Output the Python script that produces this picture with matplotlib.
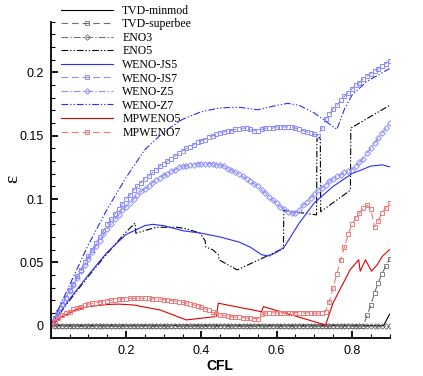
import numpy as np
import matplotlib
matplotlib.use('Agg')
import matplotlib.pyplot as plt
from matplotlib.ticker import MultipleLocator

# CFL grid of the marked series (one marker per point)
cfl_m = np.round(np.arange(0, 0.901, 0.01), 2)

# error values
tvd_minmod_x = [0.0, 0.884, 0.9]
tvd_minmod_y = [0.0, 0.0, 0.009]

tvd_superbee = [0.0] * 84 + [0.008, 0.016, 0.026, 0.034, 0.041, 0.047, 0.053]

eno3 = [0.0] * 91

eno5_x = [0.0, 0.05, 0.1, 0.15, 0.2, 0.224, 0.226, 0.28, 0.335, 0.36, 0.397, 0.41, 0.412,
          0.43, 0.445, 0.447, 0.495, 0.618, 0.619, 0.706, 0.707, 0.716, 0.717, 0.796,
          0.797, 0.9]
eno5_y = [0.0, 0.020, 0.039, 0.057, 0.074, 0.081, 0.073, 0.0777, 0.0777, 0.0765, 0.073,
          0.067, 0.062, 0.060, 0.056, 0.052, 0.044, 0.061, 0.091, 0.0875, 0.147, 0.149,
          0.090, 0.107, 0.156, 0.174]

weno_js5_x = [0.0, 0.05, 0.1, 0.15, 0.2, 0.25, 0.27, 0.3, 0.35, 0.4, 0.45, 0.5, 0.53,
              0.56, 0.58, 0.6, 0.62, 0.66, 0.7, 0.75, 0.8, 0.85, 0.88, 0.9]
weno_js5_y = [0.0, 0.021, 0.040, 0.058, 0.072, 0.079, 0.080, 0.079, 0.075, 0.073, 0.070,
              0.066, 0.062, 0.056, 0.055, 0.058, 0.062, 0.081, 0.097, 0.110, 0.120, 0.126,
              0.127, 0.1255]

weno_js7 = [0.0, 0.006, 0.011, 0.017, 0.022, 0.028, 0.033, 0.039, 0.044, 0.050,
            0.055, 0.060, 0.065, 0.070, 0.075, 0.080, 0.084, 0.088, 0.092, 0.096,
            0.100, 0.103, 0.107, 0.110, 0.113, 0.116, 0.118, 0.121, 0.123, 0.126,
            0.128, 0.130, 0.132, 0.134, 0.136, 0.138, 0.140, 0.141, 0.143, 0.145,
            0.146, 0.147, 0.149, 0.150, 0.151, 0.152, 0.153, 0.154, 0.154, 0.155,
            0.155, 0.156, 0.156, 0.155, 0.154, 0.154, 0.155, 0.156, 0.156, 0.156,
            0.157, 0.157, 0.157, 0.157, 0.157, 0.156, 0.155, 0.154, 0.153, 0.152,
            0.151, 0.150, 0.156, 0.163, 0.167, 0.171, 0.174, 0.178, 0.181, 0.184,
            0.187, 0.190, 0.192, 0.195, 0.197, 0.199, 0.201, 0.203, 0.205, 0.207,
            0.209]

weno_z5 = [0.0, 0.005, 0.011, 0.016, 0.022, 0.027, 0.032, 0.038, 0.043, 0.048,
           0.053, 0.058, 0.063, 0.067, 0.072, 0.076, 0.080, 0.084, 0.087, 0.091,
           0.094, 0.097, 0.100, 0.103, 0.106, 0.108, 0.110, 0.113, 0.115, 0.117,
           0.119, 0.120, 0.122, 0.123, 0.125, 0.126, 0.126, 0.127, 0.127, 0.128,
           0.128, 0.128, 0.128, 0.128, 0.127, 0.127, 0.126, 0.124, 0.123, 0.121,
           0.120, 0.118, 0.116, 0.114, 0.112, 0.110, 0.107, 0.105, 0.102, 0.099,
           0.097, 0.094, 0.092, 0.090, 0.089, 0.089, 0.091, 0.095, 0.098, 0.101,
           0.104, 0.107, 0.109, 0.111, 0.114, 0.116, 0.118, 0.119, 0.121, 0.122,
           0.123, 0.126, 0.129, 0.132, 0.136, 0.140, 0.144, 0.148, 0.152, 0.156,
           0.160]

weno_z7_x = [0.0, 0.05, 0.1, 0.15, 0.2, 0.25, 0.3, 0.35, 0.4, 0.45, 0.5, 0.55, 0.6, 0.63,
             0.66, 0.7, 0.76, 0.78, 0.8, 0.84, 0.87, 0.9]
weno_z7_y = [0.0, 0.032, 0.064, 0.092, 0.117, 0.139, 0.153, 0.163, 0.169, 0.172, 0.1725,
             0.1705, 0.174, 0.1756, 0.174, 0.168, 0.155, 0.171, 0.182, 0.193, 0.198, 0.203]

mpweno5_x = [0.0, 0.03, 0.07, 0.1, 0.15, 0.18, 0.22, 0.29, 0.36, 0.44, 0.445, 0.56, 0.565,
             0.73, 0.75, 0.795, 0.818, 0.822, 0.836, 0.852, 0.867, 0.88, 0.9]
mpweno5_y = [0.0, 0.007, 0.013, 0.015, 0.0167, 0.017, 0.0163, 0.0124, 0.0045, 0.0072,
             0.0177, 0.011, 0.015, 0.0005, 0.018, 0.044, 0.052, 0.043, 0.052, 0.043,
             0.048, 0.0545, 0.060]

mpweno7 = [0.0, 0.004, 0.006, 0.008, 0.010, 0.011, 0.013, 0.014, 0.015, 0.016,
           0.017, 0.0175, 0.018, 0.0187, 0.019, 0.0197, 0.020, 0.0205, 0.021, 0.0212,
           0.0214, 0.0215, 0.0216, 0.0216, 0.0216, 0.0216, 0.0215, 0.0213, 0.0211, 0.0208,
           0.0205, 0.0202, 0.0198, 0.0194, 0.019, 0.0185, 0.0179, 0.0172, 0.0164, 0.0155,
           0.0145, 0.0133, 0.012, 0.0105, 0.0095, 0.0085, 0.008, 0.0076, 0.0072, 0.0068,
           0.0065, 0.0062, 0.006, 0.0058, 0.0056, 0.0055, 0.0088, 0.0098, 0.0099, 0.010,
           0.0101, 0.0102, 0.0103, 0.0103, 0.0103, 0.0103, 0.0102, 0.0101, 0.010, 0.010,
           0.0099, 0.0099, 0.0098, 0.011, 0.019, 0.030, 0.041, 0.052, 0.062, 0.072,
           0.080, 0.085, 0.089, 0.093, 0.095, 0.092, 0.078, 0.083, 0.089, 0.093,
           0.097]

black = '#000000'
grey = '#707070'
blue = '#2b2bff'
lblue = '#8c8cff'
red = '#e00000'
lred = '#f07878'

dash = (6, 3.5)
dashdot = (6, 2, 1.2, 2)
dashdotdot = (6, 1.8, 1.2, 1.8, 1.2, 1.8)

fig = plt.figure(figsize=(4.23, 3.76), dpi=100)
ax = fig.add_axes([0.12, 0.102, 0.801, 0.840])

lw = 0.8
ms = 3.2
ax.plot(tvd_minmod_x, tvd_minmod_y, color=black, lw=lw, label='TVD-minmod')
ax.plot(cfl_m, tvd_superbee, color=grey, lw=lw, dashes=dash, marker='s', ms=ms,
        mfc='none', mew=0.6, label='TVD-superbee')
ax.plot(cfl_m, eno3, color=grey, lw=lw, dashes=dashdot, marker='D', ms=ms * 0.9,
        mfc='none', mew=0.6, label='ENO3')
ax.plot(eno5_x, eno5_y, color=black, lw=lw, dashes=dashdotdot, label='ENO5')
ax.plot(weno_js5_x, weno_js5_y, color=blue, lw=lw, label='WENO-JS5')
ax.plot(cfl_m, weno_js7, color=lblue, lw=lw, dashes=dash, marker='s', ms=ms,
        mfc='none', mew=0.7, label='WENO-JS7')
ax.plot(cfl_m, weno_z5, color=lblue, lw=lw, dashes=dashdot, marker='D', ms=ms * 0.9,
        mfc='none', mew=0.7, label='WENO-Z5')
ax.plot(weno_z7_x, weno_z7_y, color=blue, lw=lw, dashes=dashdotdot, label='WENO-Z7')
ax.plot(mpweno5_x, mpweno5_y, color=red, lw=lw, label='MPWENO5')
ax.plot(cfl_m, mpweno7, color=lred, lw=lw, dashes=dash, marker='s', ms=ms,
        mfc='none', mew=0.7, label='MPWENO7')

ax.set_xlim(0, 0.9)
ax.set_ylim(-0.0095, 0.24)
ax.set_xticks([0.2, 0.4, 0.6, 0.8])
ax.set_xticklabels(['0.2', '0.4', '0.6', '0.8'])
ax.set_yticks([0, 0.05, 0.1, 0.15, 0.2])
ax.set_yticklabels(['0', '0.05', '0.1', '0.15', '0.2'])
ax.xaxis.set_minor_locator(MultipleLocator(0.05))
ax.yaxis.set_minor_locator(MultipleLocator(0.01))
ax.tick_params(which='both', direction='in', top=False, right=False)
ax.tick_params(which='major', length=5, width=1.3, labelsize=9, pad=5)
ax.tick_params(which='minor', length=3, width=0.8)
for lab in ax.get_xticklabels() + ax.get_yticklabels():
    lab.set_family('Liberation Sans')
ax.spines['top'].set_visible(False)
ax.spines['right'].set_visible(False)
ax.spines['left'].set_linewidth(1.3)
ax.spines['bottom'].set_linewidth(1.3)

ax.set_xlabel('CFL', fontsize=10, fontweight='bold', family='Liberation Sans', labelpad=2)
fig.text(0.03, 0.524, 'ε', rotation=90, ha='center', va='center', fontsize=14,
         family='Liberation Serif')

leg = fig.legend(loc='upper left', bbox_to_anchor=(0.144, 0.987), frameon=False,
                 prop={'family': 'Liberation Serif', 'size': 8.5}, handlelength=4.4,
                 handletextpad=0.8, labelspacing=0.13, borderpad=0, borderaxespad=0,
                 numpoints=1)

fig.savefig('out.png', dpi=100)
